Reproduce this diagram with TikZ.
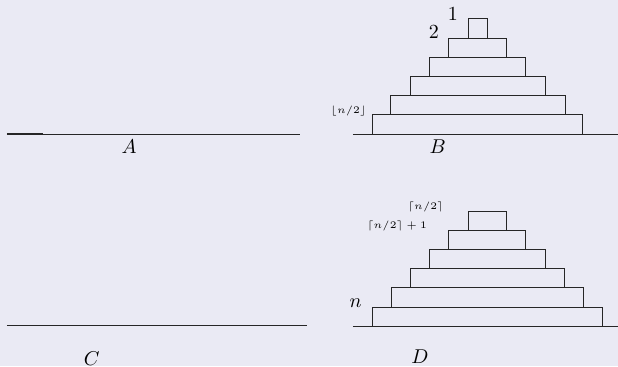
\documentclass[tikz,border=0pt]{standalone}
\usepackage{amsmath}
\definecolor{bgcol}{RGB}{234,234,244}
\tikzset{
  disk/.style={draw=black!85, line width=0.45pt},
  floor/.style={draw=black!85, line width=0.45pt},
  biglab/.style={inner sep=0pt, font=\normalsize},
  smalllab/.style={inner sep=0pt, font=\tiny}
}
\begin{document}
\begin{tikzpicture}[x=0.5pt,y=-0.5pt]
\fill[bgcol] (0,0) rectangle (618,366);
\useasboundingbox (0,0) rectangle (618,366);
% --- A ---
\coordinate (a1) at (7,134); \coordinate (a2) at (300,134); \coordinate (a3) at (43,134);
\draw[floor] (a1) -- (a2);
\draw[floor, line width=0.7pt] (a1) -- (a3);
\node[biglab] (labA) at (129,147) {$A$};
% --- C ---
\coordinate (c1) at (7,325.7); \coordinate (c2) at (307,325.7);
\draw[floor] (c1) -- (c2);
\node[biglab] (labC) at (91.7,358.3) {$C$};
% --- B ---
\coordinate (b1) at (353,134); \coordinate (b2) at (618,134);
\draw[floor] (b1) -- (b2);
\foreach \w/\yb/\yt in {210/134/114.8, 175/114.8/95.6, 135/95.6/76.4, 96.5/76.4/57.2, 58/57.2/38, 19/38/18.8}{
  \draw[disk] (477.5-\w/2,\yb) rectangle (477.5+\w/2,\yt);
}
\node[biglab] (lab1) at (453,14) {$1$};
\node[biglab] (lab2) at (434,32) {$2$};
\node[smalllab] (labfl) at (348.5,111) {$\lfloor n/2\rfloor$};
\node[biglab] (labB) at (437.7,146.7) {$B$};
% --- D ---
\coordinate (d1) at (353,326); \coordinate (d2) at (618,326);
\draw[floor] (d1) -- (d2);
\foreach \w/\yb/\yt in {230.7/326/307, 192/307/287.8, 154/287.8/268.6, 115.3/268.6/249.4, 77/249.4/230.2, 38.4/230.2/211}{
  \draw[disk] (487.4-\w/2,\yb) rectangle (487.4+\w/2,\yt);
}
\node[smalllab] (labce) at (425.7,207.3) {$\lceil n/2\rceil$};
\node[smalllab] (labce1) at (397,226) {$\lceil n/2\rceil+1$};
\node[biglab] (labn) at (355.7,303.3) {$n$};
\node[biglab] (labD) at (420,356.7) {$D$};
\end{tikzpicture}
\end{document}
